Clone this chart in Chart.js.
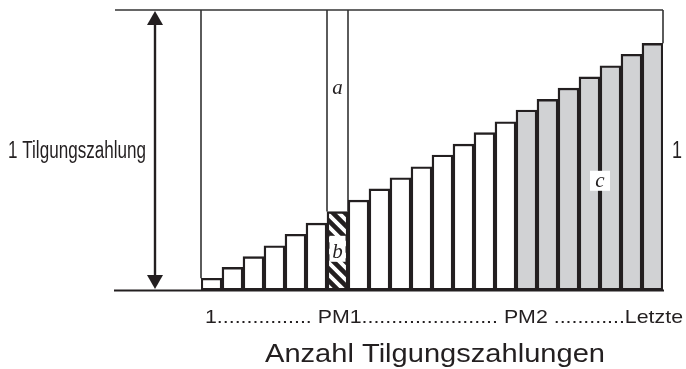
<!DOCTYPE html>
<html>
<head>
<meta charset="utf-8">
<script src="https://cdn.jsdelivr.net/npm/chart.js@4/dist/chart.umd.min.js"></script>
<style>
  html, body { margin: 0; padding: 0; background: #ffffff; }
  #wrap { width: 686px; height: 369px; position: relative; }
</style>
</head>
<body>
<div id="wrap"><canvas id="c" width="686" height="369"></canvas></div>
<script>
// ---- data ----
const categories = ['1','2','3','4','5','6','7','8','9','10','11','12','13','14','15','16','17','18','19','20','21','22'];
const principalShare = [0.042, 0.081, 0.119, 0.158, 0.199, 0.239, 0.280, 0.321, 0.361, 0.401, 0.440,
                        0.482, 0.521, 0.562, 0.601, 0.643, 0.681, 0.721, 0.761, 0.801, 0.842, 0.881];
const pm1Index = 6;      // hatched bar (b)
const pm2Index = 15;     // first grey bar (c)
const yLabel = '1 Tilgungszahlung';
const yRightLabel = '1';
const tickLine = '1................ PM1....................... PM2 ............Letzte';
const xTitle = 'Anzahl Tilgungszahlungen';
const markA = 'a', markB = 'b', markC = 'c';

// ---- styles ----
const INK = '#231f20';
const GREY = '#d1d2d4';

function makeHatch() {
  const s = 12;
  const p = document.createElement('canvas');
  p.width = s; p.height = s;
  const g = p.getContext('2d');
  g.fillStyle = '#ffffff';
  g.fillRect(0, 0, s, s);
  g.strokeStyle = INK;
  g.lineWidth = 4.6;
  g.beginPath();
  g.moveTo(-s, 0); g.lineTo(s, 2 * s);
  g.moveTo(0, 0); g.lineTo(s, s);
  g.moveTo(0, -s); g.lineTo(2 * s, s);
  g.stroke();
  return g.createPattern(p, 'repeat');
}

const ctx0 = document.getElementById('c').getContext('2d');
const hatch = makeHatch();

function fitText(ctx, text, x, y, targetW, align) {
  const w = ctx.measureText(text).width;
  const k = targetW / w;
  ctx.save();
  ctx.translate(x, y);
  ctx.scale(k, 1);
  ctx.textAlign = 'left';
  let ox = 0;
  if (align === 'center') ox = -w / 2;
  else if (align === 'right') ox = -w;
  ctx.fillText(text, ox, 0);
  ctx.restore();
}

const decor = {
  id: 'decor',
  beforeDatasetsDraw(chart) {
    const { ctx, scales: { x, y } } = chart;
    const meta = chart.getDatasetMeta(0);
    const top = y.getPixelForValue(1);
    const first = meta.data[0], last = meta.data[meta.data.length - 1], pm = meta.data[pm1Index];
    ctx.save();
    ctx.strokeStyle = '#333';
    ctx.lineWidth = 1.6;
    // top reference line
    ctx.beginPath();
    ctx.moveTo(115, top); ctx.lineTo(last.x + last.width / 2, top);
    ctx.stroke();
    // vertical boundaries
    const vx = [first.x - first.width / 2, pm.x - pm.width / 2, pm.x + pm.width / 2, last.x + last.width / 2];
    const vy = [first.y, pm.y, pm.y, last.y];
    for (let i = 0; i < vx.length; i++) {
      ctx.beginPath();
      ctx.moveTo(vx[i], top); ctx.lineTo(vx[i], vy[i]);
      ctx.stroke();
    }
    ctx.restore();
  },
  afterDatasetsDraw(chart) {
    const { ctx, scales: { x, y } } = chart;
    const meta = chart.getDatasetMeta(0);
    const top = y.getPixelForValue(1);
    const bot = y.getPixelForValue(0);
    const last = meta.data[meta.data.length - 1];
    ctx.save();
    // baseline
    ctx.strokeStyle = INK;
    ctx.lineWidth = 2;
    ctx.beginPath();
    ctx.moveTo(114, bot + 0.5); ctx.lineTo(last.x + last.width / 2 + 1, bot + 0.5);
    ctx.stroke();
    // double arrow
    const ax = 155;
    ctx.lineWidth = 2.4;
    ctx.beginPath();
    ctx.moveTo(ax, top + 12); ctx.lineTo(ax, bot - 12);
    ctx.stroke();
    ctx.fillStyle = INK;
    ctx.beginPath();
    ctx.moveTo(ax, top + 1); ctx.lineTo(ax - 8, top + 15); ctx.lineTo(ax + 8, top + 15); ctx.closePath();
    ctx.fill();
    ctx.beginPath();
    ctx.moveTo(ax, bot - 1); ctx.lineTo(ax - 8, bot - 15); ctx.lineTo(ax + 8, bot - 15); ctx.closePath();
    ctx.fill();

    // letters
    const pm = meta.data[pm1Index];
    ctx.font = 'italic 21px "Liberation Serif", "DejaVu Serif", serif';
    ctx.textAlign = 'center';
    ctx.textBaseline = 'alphabetic';
    ctx.fillStyle = INK;
    ctx.fillText(markA, pm.x, y.getPixelForValue(0.70));
    // b with white box
    const by = y.getPixelForValue(principalShare[pm1Index] / 2);
    ctx.fillStyle = '#ffffff';
    ctx.fillRect(pm.x - 8, by - 15, 16, 26);
    ctx.fillStyle = INK;
    ctx.fillText(markB, pm.x, by + 7);
    // c with white box
    const cx = (x.getPixelForValue(18) + x.getPixelForValue(19)) / 2;
    const cy = y.getPixelForValue(0.39);
    ctx.fillStyle = '#ffffff';
    ctx.fillRect(cx - 10, cy - 10, 20, 20);
    ctx.fillStyle = INK;
    ctx.fillText(markC, cx, cy + 6);

    // texts
    ctx.fillStyle = INK;
    ctx.font = '23px "Liberation Sans Narrow", "Liberation Sans", Arial, sans-serif';
    fitText(ctx, yLabel, 8, 158, 138, 'left');
    fitText(ctx, yRightLabel, 672, 158, 10, 'left');
    ctx.font = '19px "Liberation Sans", Arial, sans-serif';
    fitText(ctx, tickLine, 205, 323, 478, 'left');
    ctx.font = '26px "Liberation Sans", Arial, sans-serif';
    fitText(ctx, xTitle, 435, 362, 340, 'center');
    ctx.restore();
  }
};

new Chart(ctx0, {
  type: 'bar',
  data: {
    labels: categories,
    datasets: [{
      data: principalShare,
      backgroundColor: (c) => c.dataIndex === pm1Index ? hatch : (c.dataIndex >= pm2Index ? GREY : '#ffffff'),
      borderColor: INK,
      borderWidth: 2.4,
      borderSkipped: false,
      barPercentage: 1,
      categoryPercentage: 1
    }]
  },
  options: {
    responsive: false,
    animation: false,
    layout: { padding: { left: 201, right: 23, top: 10, bottom: 79 } },
    plugins: { legend: { display: false }, tooltip: { enabled: false }, title: { display: false } },
    scales: {
      x: { display: false },
      y: { display: false, min: 0, max: 1 }
    }
  },
  plugins: [decor]
});
</script>
</body>
</html>
